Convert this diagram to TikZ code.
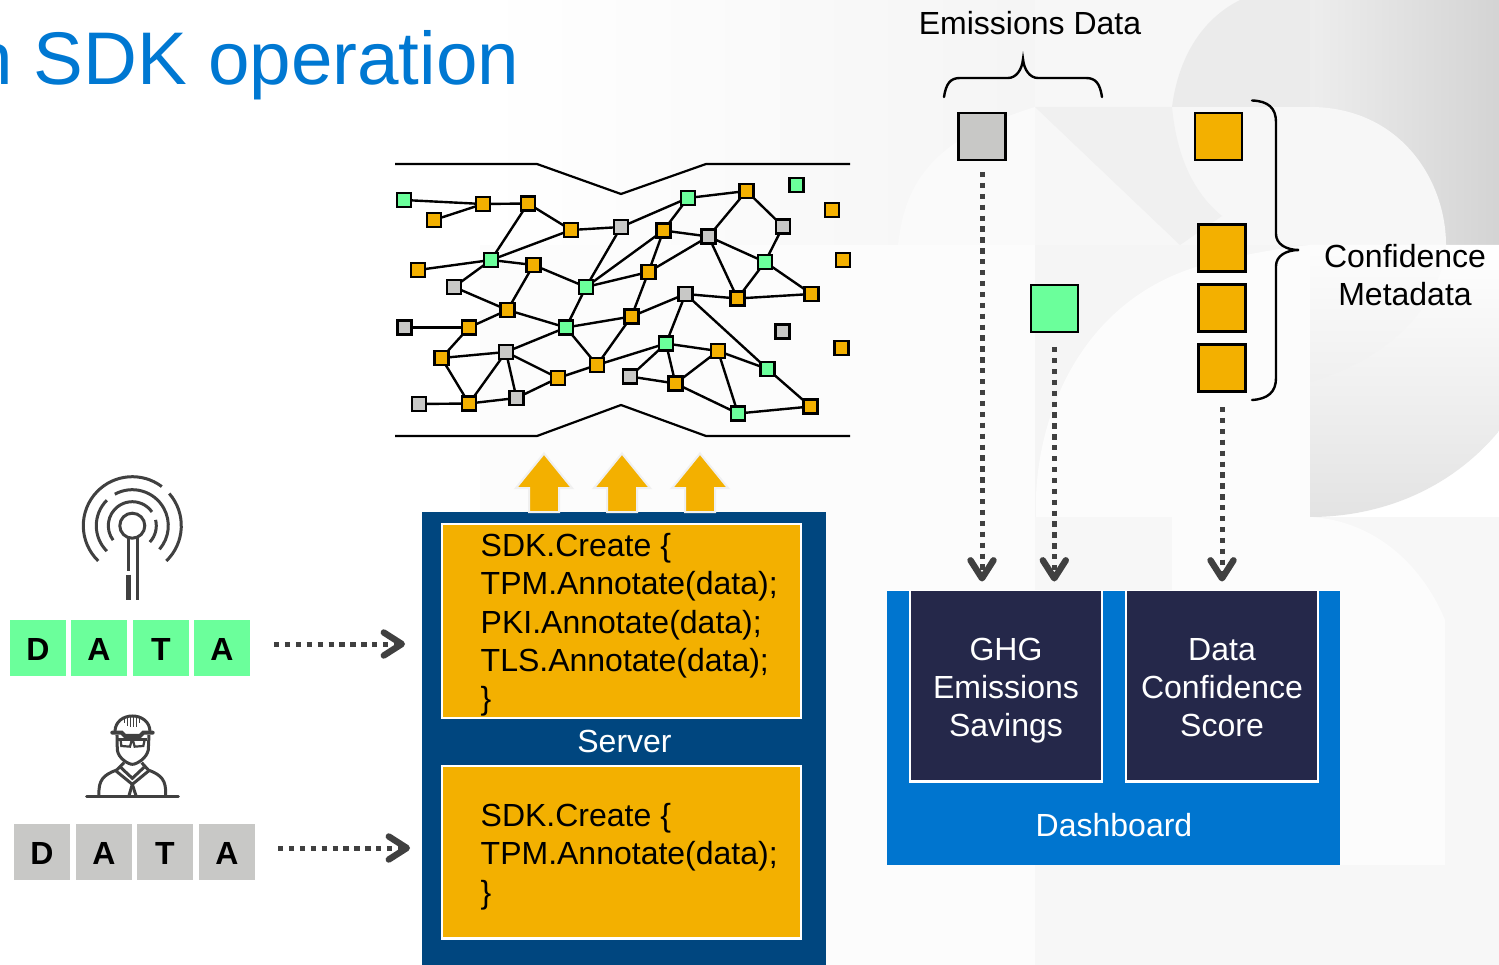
\documentclass[tikz,border=0pt]{standalone}
\usepackage{fontspec}
\setmainfont{Liberation Sans}
\usetikzlibrary{arrows.meta}
\definecolor{cgreen}{HTML}{6BFF9B}
\definecolor{cgray}{HTML}{C8C8C6}
\definecolor{corange}{HTML}{F3B000}
\definecolor{cnavy}{HTML}{00467F}
\definecolor{cblue}{HTML}{0075CF}
\definecolor{cdark}{HTML}{25284A}
\definecolor{ctitle}{HTML}{0078D2}
\definecolor{cicon}{HTML}{404040}
\tikzset{
  sq/.style={draw=black,line width=2.6pt,minimum size=14pt,inner sep=0pt},
  g/.style={sq,fill=cgreen},
  o/.style={sq,fill=corange},
  s/.style={sq,fill=cgray},
  edge/.style={draw=black,line width=2.4pt},
  outline/.style={draw=black,line width=2.2pt},
  bigsq/.style={draw=black,line width=2.8pt,minimum size=47pt,inner sep=0pt},
  letter/.style={minimum size=56pt,inner sep=0pt,text height=25pt,text depth=0pt,font=\fontsize{32}{38}\selectfont\bfseries,text=black},
  txt/.style={font=\fontsize{32}{38.4}\selectfont,inner sep=0pt,align=center},
  code/.style={font=\fontsize{32}{38.4}\selectfont,inner sep=0pt,align=left,anchor=north west,text=black},
  flow/.style={draw=cicon,line width=5pt,dash pattern=on 5.3pt off 5.6pt,
    -{Straight Barb[length=18pt,width=23pt,line width=6.4pt,round]}},
  brace/.style={draw=black,line width=2.4pt,line cap=round},
  icon/.style={draw=cicon,line width=3pt},
  inner/.style={draw=white,line width=2.2pt,inner sep=0pt},
  bg/.style={draw=none},
}
\begin{document}
\begin{tikzpicture}[x=1pt,y=-1pt]
\useasboundingbox (0,0) rectangle (1499,965);
% --- faint background
\fill[white] (0,0) rectangle (1499,965);
\shade[left color=white,right color=black!4,bg] (480,0) rectangle (1035,245);
\fill[black!1,bg] (480,245) rectangle (1035,965);
\fill[black!2,bg] (898,245) .. controls (905,180) and (935,138) .. (1035,107) -- (1035,245) -- cycle;
\fill[black!3,bg] (1035,0) rectangle (1310,245);
\fill[black!8,bg] (1172,107) .. controls (1178,60) and (1200,20) .. (1240,0) -- (1310,0) -- (1310,107) -- cycle;
\fill[black!6,bg] (1035,107) -- (1172,107) .. controls (1176,150) and (1190,190) .. (1222,216) -- (1180,245) -- cycle;
\shade[left color=black!7,right color=black!17,bg] (1310,0) rectangle (1499,245);
\fill[black!3,bg] (1310,107) .. controls (1400,107) and (1446,180) .. (1446,245) -- (1310,245) -- cycle;
% lower part
\fill[black!4,bg] (1035,245) rectangle (1310,517);
\fill[black!1,bg] (1036,517) -- (1036,496) .. controls (1040,400) and (1090,300) .. (1196,267) .. controls (1240,255) and (1280,248) .. (1310,245) -- (1310,517) -- cycle;
\shade[top color=white,bottom color=black!11,bg] (1310,245) -- (1499,245) -- (1499,431) .. controls (1450,490) and (1380,517) .. (1310,517) -- cycle;
\shade[top color=black!1,bottom color=black!6,bg] (1310,245) -- (1446,245) .. controls (1440,310) and (1385,360) .. (1310,382) -- cycle;
\fill[black!3,bg] (1035,517) rectangle (1499,965);
\fill[black!1,bg] (1172,517) -- (1310,517) .. controls (1370,520) and (1420,560) .. (1445,620) -- (1445,865) -- (1172,865) -- cycle;

% --- title
\node[anchor=base west,inner sep=0pt,text=ctitle,font=\fontsize{74.6}{88}\selectfont] (title) at (-28.4,85) {n SDK operation};

% --- network outline
\draw[outline] (395,164) -- (537,164) -- (621,194) -- (706,164) -- (850,164);
\draw[outline] (395,436) -- (537,436) -- (621,405) -- (706,436) -- (850,436);

% --- network nodes
\foreach \n/\st/\x/\y in {
a1/g/404/200,a2/o/434/220,a3/o/483/204,a4/o/528/203.5,a5/o/571/230,a6/s/621/227,
a7/g/491/260,a8/o/418/270,a9/o/533.5/265,a10/s/454/287,a11/g/586/287,a12/o/507.5/310,
a13/s/404.5/327.5,a14/o/469/327.5,a15/g/566/327.5,a16/o/441.5/358,a17/s/506/352,
a18/o/597/365,a19/o/558/378,a20/s/516.5/398,a21/s/419/404,a22/o/469/403.5,
b1/g/688/198,b2/o/746.5/191,b3/g/796.5/185,b4/o/832/210,b5/s/783/226.5,b6/o/663.5/230.5,
b7/s/708.5/236.5,b8/g/765/262,b9/o/843/260,b10/o/648.5/272,b11/o/737.5/298.5,
b12/o/811.5/294,b13/s/685.5/294,b14/o/631.5/316.5,b15/s/782.5/331.5,b16/o/841.5/348,
b17/g/666/343.5,b18/o/718/351,b19/g/767.5/369,b20/s/630/376.5,b21/o/675.5/383.5,
b22/o/810.5/406.5,b23/g/738/413.5}
  \coordinate (\n) at (\x,\y);
\foreach \p/\q in {a1/a3,a2/a3,a3/a4,a4/a5,a4/a7,a5/a6,a5/a7,a6/a11,a7/a8,a7/a9,a7/a10,
a9/a11,a9/a12,a10/a12,a11/a15,a12/a14,a12/a15,a13/a14,a14/a16,a16/a17,a16/a22,a15/a17,
a15/a18,a17/a19,a17/a20,a17/a22,a18/a19,a19/a20,a20/a22,a21/a22,a6/b1,a11/b6,a11/b10,
a15/b14,a18/b14,a18/b17,b1/b2,b1/b6,b2/b7,b2/b5,b5/b8,b6/b7,b6/b10,b7/b8,b7/b10,b7/b11,
b8/b11,b8/b12,b11/b12,b11/b13,b10/b14,b13/b14,b13/b17,b13/b19,b17/b18,b17/b20,b17/b21,
b18/b19,b18/b21,b18/b23,b20/b21,b21/b23,b19/b22,b22/b23}
  \draw[edge] (\p) -- (\q);
\foreach \n/\st in {a1/g,a2/o,a3/o,a4/o,a5/o,a6/s,a7/g,a8/o,a9/o,a10/s,a11/g,a12/o,a13/s,
a14/o,a15/g,a16/o,a17/s,a18/o,a19/o,a20/s,a21/s,a22/o,b1/g,b2/o,b3/g,b4/o,b5/s,b6/o,b7/s,
b8/g,b9/o,b10/o,b11/o,b12/o,b13/s,b14/o,b15/s,b16/o,b17/g,b18/o,b19/g,b20/s,b21/o,b22/o,b23/g}
  \node[\st] (n\n) at (\n) {};

% --- server
\node[fill=cnavy,minimum width=404pt,minimum height=453pt,inner sep=0pt,anchor=north west] (server) at (422,512) {};
\node[fill=corange,inner,minimum width=358.8pt,minimum height=193.8pt,anchor=north west] (box1) at (441.2,523) {};
\node[fill=corange,inner,minimum width=358.8pt,minimum height=172.3pt,anchor=north west] (box2) at (441.2,765) {};
\node[code] (code1) at (480.5,533) {SDK.Create \{\\TPM.Annotate(data);\\PKI.Annotate(data);\\TLS.Annotate(data);\\\}};
\node[code] (code2) at (480.5,803) {SDK.Create \{\\TPM.Annotate(data);\\\}};
\node[txt,text=white] (serverlabel) at (624.5,741) {Server};

% --- yellow up arrows
\foreach \cx in {544,622,700}
  \draw[draw=black!6,line width=2pt,fill=corange,line join=miter]
    (\cx,453.5) -- (\cx+28,488) -- (\cx+15,488) -- (\cx+15,512) -- (\cx-15,512) -- (\cx-15,488) -- (\cx-28,488) -- cycle;

% --- data strips
\foreach \n/\x/\l in {d1/38/D,d2/99/A,d3/161/T,d4/222/A}
  \node[letter,fill=cgreen] (\n) at (\x,648) {\l};
\foreach \n/\x/\l in {e1/42/D,e2/104/A,e3/165/T,e4/227/A}
  \node[letter,fill=cgray] (\n) at (\x,852) {\l};
\coordinate (f1s) at (274,644); \coordinate (f1e) at (405,644);
\coordinate (f2s) at (278,848); \coordinate (f2e) at (410,848);
\draw[flow] (f1s) -- (f1e);
\draw[flow] (f2s) -- (f2e);

% --- antenna icon
\begin{scope}[shift={(132.3,525.7)},x=1pt,y=1pt]
  \draw[icon] (0,0) circle[radius=12.5pt];
  \draw[icon] (226:49) arc[start angle=226,end angle=53,radius=49pt];
  \draw[icon] (41:49) arc[start angle=41,end angle=-46,radius=49pt];
  \draw[icon] (225:36) arc[start angle=225,end angle=135,radius=36pt];
  \draw[icon] (119:36) arc[start angle=119,end angle=-41,radius=36pt];
  \draw[icon] (217:24) arc[start angle=217,end angle=35,radius=24pt];
  \draw[icon] (14:24) arc[start angle=14,end angle=-43,radius=24pt];
  \draw[icon] (-4,-12) -- (-4,-45.5);
  \draw[draw=cicon,line width=4.5pt] (-4,-49) -- (-4,-74);
  \draw[icon] (5,-12) -- (5,-74);
\end{scope}

% --- worker icon
\begin{scope}[shift={(0,600)},x=0.3333pt,y=-0.3333pt]
  \draw[draw=cicon,line width=3pt,line cap=round] (260,590) -- (535,590);
  \draw[icon] (345,395) .. controls (345,365) and (370,348) .. (397,348) .. controls (425,348) and (450,365) .. (450,395);
  \draw[draw=cicon,line width=4pt,line cap=round] (337,398) -- (365,398) -- (375,408) -- (420,408) -- (430,398) -- (458,398);
  \foreach \rx/\ry in {373/370,382/378,391/382,400/382,409/380,418/370}
    \draw[draw=cicon,line width=1.5pt] (\rx,350) -- (\rx,\ry);
  \draw[icon] (351,405) -- (352,450) .. controls (355,475) and (385,493) .. (397,493) .. controls (410,493) and (440,475) .. (445,450) -- (447,405);
  \draw[icon] (355,420) -- (440,420);
  \draw[draw=cicon,line width=2.2pt] (362,420) -- (364,438) -- (390,440) -- (394,425) -- (400,425) -- (404,440) -- (430,438) -- (434,420);
  \draw[icon] (297,585) .. controls (295,540) and (310,525) .. (350,510) -- (372,488);
  \draw[icon] (497,585) .. controls (499,540) and (484,525) .. (445,510) -- (425,488);
  \draw[icon] (347,512) -- (397,553) -- (447,512);
  \draw[icon] (362,502) -- (397,535) -- (432,502);
  \draw[icon] (397,553) -- (387,587);
  \draw[icon] (397,553) -- (408,587);
\end{scope}

% --- data sources
\node[bigsq,fill=cgray] (sq1) at (982,136.5) {};
\node[bigsq,fill=corange] (sq2) at (1218.5,136.5) {};
\node[bigsq,fill=cgreen] (sq3) at (1054.5,308.5) {};
\node[bigsq,fill=corange] (sq4) at (1221.7,248) {};
\node[bigsq,fill=corange] (sq5) at (1221.7,308) {};
\node[bigsq,fill=corange] (sq6) at (1221.7,368) {};

% --- braces
\draw[brace] (944,97) .. controls (946,84) and (950,78) .. (960,78) -- (1008,78)
   .. controls (1016,78) and (1022,70) .. (1023,59) .. controls (1024,70) and (1030,78) .. (1038,78)
   -- (1086,78) .. controls (1096,78) and (1100,84) .. (1102,97);
\draw[brace] (1252,100.5) .. controls (1268,101) and (1276,108) .. (1276,122) -- (1276,234)
   .. controls (1276,244) and (1286,250) .. (1299,250) .. controls (1286,250) and (1276,256) .. (1276,266)
   -- (1276,378) .. controls (1276,392) and (1268,399) .. (1252,400);
\node[txt,anchor=base,text=black] (emis) at (1030,34.5) {Emissions Data};
\node[txt,anchor=base,text=black] (conf) at (1405,267.5) {Confidence};
\node[txt,anchor=base,text=black] (meta) at (1405,306) {Metadata};

% --- dashboard
\node[fill=cblue,minimum width=453pt,minimum height=273.5pt,inner sep=0pt,anchor=north west] (dash) at (887,591) {};
\draw[fill=cdark,draw=white,line width=2.2pt] (910,591) -- (910,781.5) -- (1101.7,781.5) -- (1101.7,591) -- cycle;
\draw[fill=cdark,draw=white,line width=2.2pt] (1126,591) -- (1126,781.5) -- (1318,781.5) -- (1318,591) -- cycle;
\fill[cdark] (911.1,591) rectangle (1100.6,593);
\fill[cdark] (1127.1,591) rectangle (1316.9,593);
\fill[white] (887,589.8) rectangle (1340,591);
\node[txt,anchor=base,text=white] (g1) at (1006,660) {GHG};
\node[txt,anchor=base,text=white] (g2) at (1006,698) {Emissions};
\node[txt,anchor=base,text=white] (g3) at (1006,736.5) {Savings};
\node[txt,anchor=base,text=white] (c1) at (1222,660) {Data};
\node[txt,anchor=base,text=white] (c2) at (1222,698) {Confidence};
\node[txt,anchor=base,text=white] (c3) at (1222,736.5) {Score};
\node[txt,anchor=base,text=white] (dl) at (1114,836) {Dashboard};

% --- dotted arrows to dashboard
\coordinate (t1) at (982,581.5); \coordinate (t2) at (1054.3,581.5); \coordinate (t3) at (1222,581.5);
\coordinate (f1) at (982,172); \coordinate (f2) at (1054.3,347); \coordinate (f3) at (1222,407);
\draw[flow] (f1) -- (t1);
\draw[flow] (f2) -- (t2);
\draw[flow] (f3) -- (t3);
\end{tikzpicture}
\end{document}
